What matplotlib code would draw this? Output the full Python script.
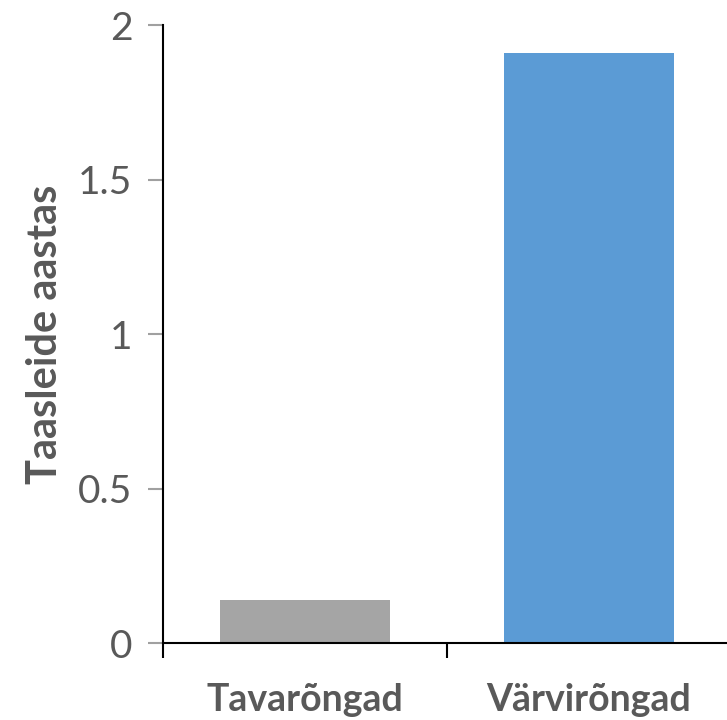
import matplotlib
matplotlib.use('Agg')
import matplotlib.pyplot as plt
from matplotlib.ticker import FixedLocator

categories = ['Tavarõngad', 'Värvirõngad']
values = [0.14, 1.91]
colors = ['#a5a5a5', '#5b9bd5']
yticks = [0, 0.5, 1, 1.5, 2]
ytick_labels = ['0', '0.5', '1', '1.5', '2']

plt.rcParams['font.family'] = ['Lato', 'DejaVu Sans']

fig = plt.figure(figsize=(7.27, 7.2), dpi=100)
ax = fig.add_axes([163 / 727, 77 / 720, 568 / 727, 618 / 720])

x = list(range(len(categories)))
ax.bar(x, values, width=0.6, color=colors)

ax.set_xlim(-0.5, len(categories) - 0.5)
ax.set_ylim(0, 2)

ax.set_yticks(yticks)
ax.set_yticklabels(ytick_labels, fontsize=28, color='#595959')
ax.tick_params(axis='y', length=11, width=1.5, color='#a0a0a0', pad=11)

ax.set_xticks(x)
ax.set_xticklabels(categories, fontsize=27, fontweight='bold', color='#595959')
ax.tick_params(axis='x', which='major', length=0, pad=29)
ax.xaxis.set_minor_locator(FixedLocator([-0.5, 0.5, 1.5]))
ax.tick_params(axis='x', which='minor', length=11, width=1.5, color='black')

ax.set_ylabel('Taasleide aastas', fontsize=30, fontweight='bold', color='#595959', labelpad=10)

for side in ['top', 'right']:
    ax.spines[side].set_visible(False)
for side in ['left', 'bottom']:
    ax.spines[side].set_linewidth(1.5)
    ax.spines[side].set_color('black')

fig.savefig('out.png', dpi=100)
